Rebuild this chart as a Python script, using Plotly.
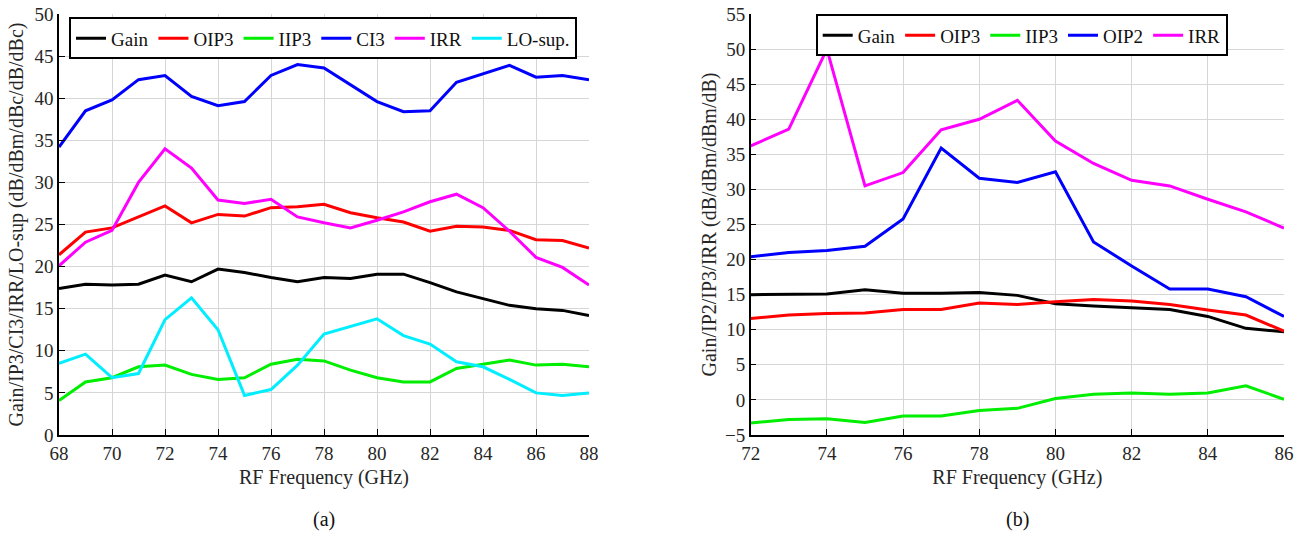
import plotly.graph_objects as go

# ---------- data (a) ----------
freq_a = list(range(68, 89))
gain_a = [17.4, 17.9, 17.8, 17.9, 19.0, 18.2, 19.7, 19.3, 18.7, 18.2, 18.7,
          18.6, 19.1, 19.1, 18.1, 17.0, 16.2, 15.4, 15.0, 14.8, 14.2]
oip3_a = [21.4, 24.1, 24.6, 25.9, 27.2, 25.2, 26.2, 26.0, 27.0, 27.1, 27.4,
          26.4, 25.8, 25.3, 24.2, 24.8, 24.7, 24.3, 23.2, 23.1, 22.2]
iip3_a = [4.1, 6.3, 6.8, 8.1, 8.3, 7.2, 6.6, 6.8, 8.4, 9.0, 8.8,
          7.7, 6.8, 6.3, 6.3, 7.9, 8.4, 8.9, 8.3, 8.4, 8.1]
ci3_a = [34.2, 38.5, 39.8, 42.2, 42.7, 40.2, 39.1, 39.6, 42.7, 44.0, 43.6,
         41.6, 39.6, 38.4, 38.5, 41.9, 42.9, 43.9, 42.5, 42.7, 42.2]
irr_a = [20.1, 22.9, 24.3, 30.0, 34.0, 31.7, 27.9, 27.5, 28.0, 25.9, 25.2,
         24.6, 25.5, 26.5, 27.7, 28.6, 27.0, 24.2, 21.1, 19.9, 17.8]
losup_a = [8.5, 9.6, 6.8, 7.3, 13.7, 16.3, 12.5, 4.7, 5.4, 8.3, 12.0,
           12.9, 13.8, 11.8, 10.8, 8.7, 8.1, 6.6, 5.0, 4.7, 5.0]

# ---------- data (b) ----------
freq_b = list(range(72, 87))
gain_b = [15.0, 15.0, 15.1, 15.7, 15.2, 15.2, 15.3, 14.9, 13.7, 13.4, 13.1, 12.9, 11.9, 10.2, 9.7]
oip3_b = [11.6, 12.1, 12.3, 12.4, 12.9, 12.9, 13.8, 13.6, 14.0, 14.3, 14.1, 13.6, 12.8, 12.1, 9.8]
iip3_b = [-3.3, -2.8, -2.7, -3.2, -2.3, -2.3, -1.5, -1.2, 0.2, 0.8, 1.0, 0.8, 1.0, 2.0, 0.1]
oip2_b = [20.4, 21.0, 21.3, 21.9, 25.8, 35.9, 31.6, 31.0, 32.5, 22.5, 19.1, 15.8, 15.8, 14.7, 11.9]
irr_b = [36.2, 38.6, 50.0, 30.5, 32.4, 38.5, 40.0, 42.7, 36.9, 33.7, 31.3, 30.5, 28.6, 26.8, 24.5]

xticks_a = list(range(68, 89, 2))
yticks_a = list(range(0, 51, 5))
xticks_b = list(range(72, 87, 2))
yticks_b = list(range(-5, 56, 5))

FONT = "Liberation Serif, Times New Roman, DejaVu Serif, serif"
W = 3

fig = go.Figure()

series_a = [("Gain", gain_a, "#000000"), ("OIP3", oip3_a, "#ff0000"),
            ("IIP3", iip3_a, "#00ee00"), ("CI3", ci3_a, "#0000ff"),
            ("IRR", irr_a, "#ff00ff"), ("LO-sup.", losup_a, "#00eeff")]
for name, ys, col in series_a:
    fig.add_trace(go.Scatter(x=freq_a, y=ys, mode="lines", name=name,
                             line=dict(color=col, width=W),
                             xaxis="x", yaxis="y", legend="legend"))

series_b = [("Gain", gain_b, "#000000"), ("OIP3", oip3_b, "#ff0000"),
            ("IIP3", iip3_b, "#00ee00"), ("OIP2", oip2_b, "#0000ff"),
            ("IRR", irr_b, "#ff00ff")]
for name, ys, col in series_b:
    fig.add_trace(go.Scatter(x=freq_b, y=ys, mode="lines", name=name,
                             line=dict(color=col, width=W),
                             xaxis="x2", yaxis="y2", legend="legend2"))

WID, H = 1302.0, 533.0
ML, MR, MT, MB = 59, 18, 13.5, 98
PW = WID - ML - MR
PH = H - MT - MB


def px_x(p):
    return (p - ML) / PW


def px_y(p):
    return 1 - (p - MT) / PH


axis_common = dict(showgrid=True, gridcolor="#d6d6d6", gridwidth=1,
                   showline=True, linecolor="#000000", linewidth=1.5,
                   ticks="inside", ticklen=6, tickcolor="#000000",
                   zeroline=False, automargin=False,
                   tickfont=dict(family=FONT, size=19, color="#262626"),
                   title_font=dict(family=FONT, size=20, color="#262626"))

leg_common = dict(orientation="h", xanchor="left", yanchor="top",
                  bordercolor="#000000", borderwidth=2, bgcolor="white",
                  font=dict(family=FONT, size=19, color="#111111"),
                  tracegroupgap=0, itemwidth=30)

fig.update_layout(
    template="none",
    width=WID, height=H,
    margin=dict(l=ML, r=MR, t=MT, b=MB, pad=0),
    paper_bgcolor="white", plot_bgcolor="white",
    font=dict(family=FONT, color="#262626"),
    xaxis=dict(domain=[0, px_x(589)], range=[68, 88], tickvals=xticks_a,
               title=dict(text="RF Frequency (GHz)", standoff=7), anchor="y", **axis_common),
    yaxis=dict(domain=[0, 1], range=[0, 50], tickvals=yticks_a,
               title=dict(text="Gain/IP3/CI3/IRR/LO-sup (dB/dBm/dBc/dB/dBc)", standoff=5),
               anchor="x", **axis_common),
    xaxis2=dict(domain=[px_x(750.7), 1], range=[72, 86], tickvals=xticks_b,
                title=dict(text="RF Frequency (GHz)", standoff=7), anchor="y2", **axis_common),
    yaxis2=dict(domain=[0, 1], range=[-5, 55], tickvals=yticks_b,
                title=dict(text="Gain/IP2/IP3/IRR (dB/dBm/dBm/dB)", standoff=3),
                anchor="x2", **axis_common),
    legend=dict(x=px_x(69), y=px_y(17), **leg_common),
    legend2=dict(x=px_x(815.7), y=px_y(14), **leg_common),
    showlegend=True,
)

for txt, cx in [("(a)", 324), ("(b)", 1017)]:
    fig.add_annotation(text=txt, x=px_x(cx), y=px_y(520), xref="paper", yref="paper",
                       xanchor="center", yanchor="middle", showarrow=False,
                       font=dict(family=FONT, size=20, color="#111111"))

fig.write_html("out.html")
